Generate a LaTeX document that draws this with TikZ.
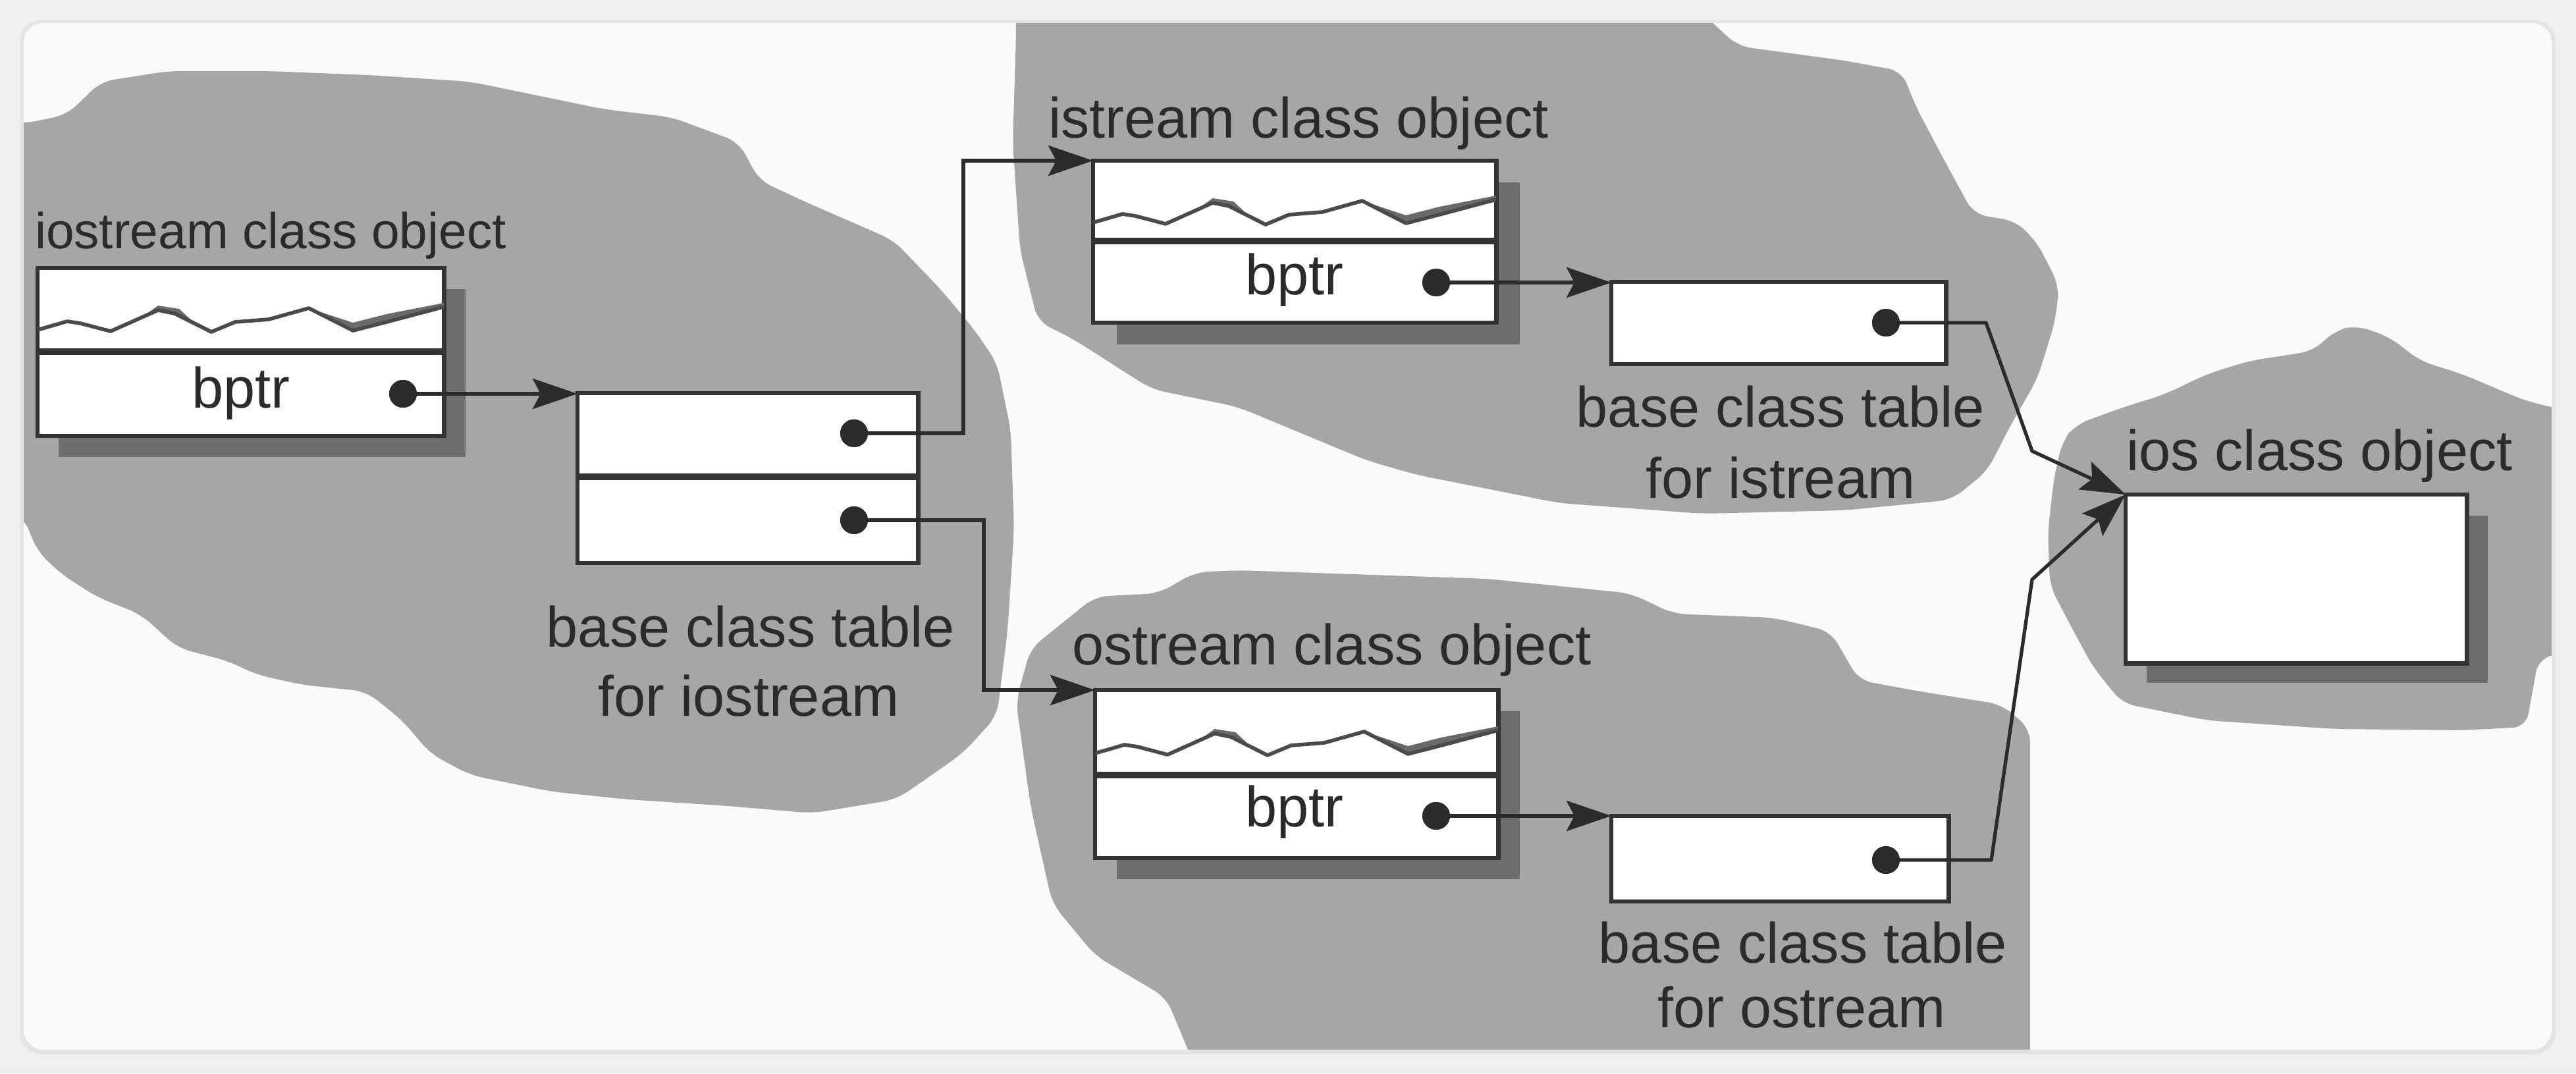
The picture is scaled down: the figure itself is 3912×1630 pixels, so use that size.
\documentclass[tikz,border=0pt]{standalone}
\usepackage{fontspec}
\setmainfont{Liberation Sans}
\usetikzlibrary{arrows.meta,calc}
\definecolor{ink}{HTML}{2B2B2B}
\definecolor{boxc}{HTML}{333333}
\definecolor{blobc}{HTML}{A6A6A6}
\definecolor{shadc}{HTML}{6E6E6E}
\definecolor{squigc}{HTML}{6A6A6A}
\definecolor{outerbg}{HTML}{EFEFEF}
\definecolor{cardbg}{HTML}{FAFAFA}
\definecolor{cardedge}{HTML}{E4E4E4}
\newcommand{\mysquig}[3]{%
  \begin{scope}[shift={(#1,#2)}, xscale=#3]
    \fill[squigc] (150,81) -- (183,64) -- (208,69) -- (240,85) -- (215,62) -- (183,57) -- cycle;
    \fill[squigc] (412,61) -- (479,95) -- (530,82) -- (617,59) -- (617,53) -- (530,70) -- (479,83) -- cycle;
    \draw[squigc!70!black, line width=1.6pt, line join=round]
      (0,94) -- (45,81) -- (65,84) -- (111,96) -- (183,64) -- (208,69) -- (264,97)
      -- (300,82) -- (351,78) -- (412,61) -- (479,95) -- (530,82) -- (617,59);
  \end{scope}}
\begin{document}
\begin{tikzpicture}[x=0.01cm, y=-0.01cm,
  cell/.style={draw=boxc, line width=1.9pt, fill=white, inner sep=0pt, outer sep=0pt, anchor=north west},
  divider/.style={draw=boxc, line width=2.8pt},
  shade/.style={fill=shadc},
  blob/.style={fill=blobc},
  dotn/.style={circle, fill=ink, draw=none, inner sep=0pt, minimum size=0.42cm},
  conn/.style={draw=ink, line width=1.5pt, -{Stealth[length=0.68cm, width=0.46cm, inset=0.12cm]}},
  lab/.style={font=\fontsize{24.6}{29}\selectfont, text=ink, inner sep=0pt, outer sep=0pt},
  smalllab/.style={font=\fontsize{21.8}{25}\selectfont, text=ink, inner sep=0pt, outer sep=0pt}]

\useasboundingbox (0,0) rectangle (3912,1630);
% background and card
\fill[outerbg] (0,0) rectangle (3912,1630);
\fill[cardedge, rounded corners=0.34cm] (30,30) rectangle (3881,1601);
\fill[cardbg, rounded corners=0.3cm] (36,35) rectangle (3875,1594);

% blobs
\begin{scope}
\clip[rounded corners=0.3cm] (36,35) rectangle (3875,1594);
\fill[blob, rounded corners=0.2cm] (20,187) -- (41,187) -- (102,174) -- (153,124) -- (255,108) -- (408,108) -- (560,114) -- (714,124) -- (918,166) -- (1020,178) -- (1122,216) -- (1153,274) -- (1224,307) -- (1357,365) -- (1429,440) -- (1479,500) -- (1514,551) -- (1535,653) -- (1540,806) -- (1530,959) -- (1514,1087) -- (1463,1143) -- (1412,1179) -- (1361,1214) -- (1234,1235) -- (1106,1224) -- (953,1214) -- (837,1202) -- (714,1177) -- (653,1144) -- (612,1095) -- (556,1050) -- (459,1040) -- (388,1024) -- (347,1004) -- (270,984) -- (214,933) -- (148,907) -- (92,871) -- (56,836) -- (36,785) -- (20,780) -- cycle;
\fill[blob, rounded corners=0.2cm] (1543,20) -- (1543,54) -- (1538,217) -- (1549,379) -- (1576,488) -- (1630,515) -- (1749,591) -- (1880,618) -- (2075,699) -- (2151,721) -- (2368,764) -- (2585,780) -- (2801,775) -- (2964,759) -- (3018,715) -- (3051,650) -- (3094,575) -- (3121,488) -- (3127,434) -- (3094,369) -- (3062,336) -- (2997,325) -- (2953,244) -- (2910,163) -- (2888,108) -- (2801,92) -- (2639,70) -- (2585,20) -- cycle;
\fill[blob, rounded corners=0.2cm] (1815,1620) -- (1771,1515) -- (1663,1451) -- (1598,1372) -- (1565,1224) -- (1543,1065) -- (1565,985) -- (1663,906) -- (1760,901) -- (1815,869) -- (1880,866) -- (2259,879) -- (2476,901) -- (2541,932) -- (2693,938) -- (2780,959) -- (2823,1033) -- (2910,1049) -- (3040,1070) -- (3083,1107) -- (3083,1620) -- cycle;
\fill[blob, rounded corners=0.2cm] (3546,502) -- (3578,494) -- (3629,512) -- (3675,548) -- (3739,568) -- (3836,609) -- (3900,624) -- (3900,990) -- (3855,1000) -- (3836,1104) -- (3739,1109) -- (3546,1107) -- (3352,1094) -- (3223,1068) -- (3178,1012) -- (3145,951) -- (3113,890) -- (3110,808) -- (3119,727) -- (3132,670) -- (3152,645) -- (3223,619) -- (3287,599) -- (3352,568) -- (3416,548) -- (3513,533) -- cycle;
\end{scope}

% shadows
\fill[shade] (89,439) rectangle (707,694);
\fill[shade] (1696,277) rectangle (2308,523);
\fill[shade] (1696,1080) rectangle (2308,1335);
\fill[shade] (3260,783) rectangle (3778,1037);

% iostream class object
\node[cell, minimum width=6.17cm, minimum height=1.27cm] (iob1) at (57,407) {};
\node[cell, minimum width=6.17cm, minimum height=1.28cm] (iob2) at (57,534) {};
\draw[divider] (iob2.north west) -- (iob2.north east);
\mysquig{57}{407}{1}

% base class table for iostream
\node[cell, minimum width=5.17cm, minimum height=1.27cm] (iot1) at (877,597) {};
\node[cell, minimum width=5.17cm, minimum height=1.31cm] (iot2) at (877,724) {};
\draw[divider] (iot2.north west) -- (iot2.north east);

% istream class object
\node[cell, minimum width=6.12cm, minimum height=1.22cm] (isb1) at (1660,244) {};
\node[cell, minimum width=6.12cm, minimum height=1.24cm] (isb2) at (1660,366) {};
\draw[divider] (isb2.north west) -- (isb2.north east);
\mysquig{1660}{244}{0.992}

% base class table for istream
\node[cell, minimum width=5.08cm, minimum height=1.25cm] (ist) at (2447,428) {};

% ostream class object
\node[cell, minimum width=6.12cm, minimum height=1.29cm] (osb1) at (1663,1048) {};
\node[cell, minimum width=6.12cm, minimum height=1.26cm] (osb2) at (1663,1177) {};
\draw[divider] (osb2.north west) -- (osb2.north east);
\mysquig{1663}{1050}{0.992}

% base class table for ostream
\node[cell, minimum width=5.12cm, minimum height=1.30cm] (ost) at (2447,1239) {};

% ios class object
\node[cell, minimum width=5.18cm, minimum height=2.56cm] (iosb) at (3228,751) {};

% dots
\node[dotn] (iod) at (612,598) {};
\node[dotn] (iotd1) at (1297,658) {};
\node[dotn] (iotd2) at (1297,790) {};
\node[dotn] (isd) at (2181,429) {};
\node[dotn] (istd) at (2864,490) {};
\node[dotn] (osd) at (2181,1239) {};
\node[dotn] (ostd) at (2864,1306) {};

% bend points
\coordinate (bA) at (1463,658);
\coordinate (bB) at (1494,790);
\coordinate (bC) at (3016,490);
\coordinate (bD) at (3086,685);
\coordinate (bE) at (3024,1306);
\coordinate (bF) at (3086,880);

% connectors
\draw[conn] (iod.center) -- (iod.center -| iot1.north west);
\draw[conn] (iotd1.center) -- (bA) |- (isb1.north west);
\draw[conn] (iotd2.center) -- (bB) |- (osb1.north west);
\draw[conn] (isd.center) -- (isd.center -| ist.north west);
\draw[conn] (osd.center) -- (osd.center -| ost.north west);
\draw[conn, line join=round] (istd.center) -- (bC) -- (bD) -- (iosb.north west);
\draw[conn, line join=round] (ostd.center) -- (bE) -- (bF) -- (iosb.north west);
\node[dotn] at (iod) {};
\node[dotn] at (iotd1) {};
\node[dotn] at (iotd2) {};
\node[dotn] at (isd) {};
\node[dotn] at (istd) {};
\node[dotn] at (osd) {};
\node[dotn] at (ostd) {};

% labels
\node[smalllab, anchor=base west] (iotitle) at (53,377) {iostream class object};
\node[lab, anchor=base] (iobptr) at (366,619) {bptr};
\node[lab, anchor=base] (iotl1) at (1140,982) {base class table};
\node[lab, anchor=base] (iotl2) at (1137,1087) {for iostream};

\node[lab, anchor=base west] (istitle) at (1592,209) {istream class object};
\node[lab, anchor=base] (isbptr) at (1966,447) {bptr};
\node[lab, anchor=base] (istl1) at (2704,648) {base class table};
\node[lab, anchor=base] (istl2) at (2704,756) {for istream};

\node[lab, anchor=base west] (ostitle) at (1628,1009) {ostream class object};
\node[lab, anchor=base] (osbptr) at (1966,1255) {bptr};
\node[lab, anchor=base] (ostl1) at (2738,1462) {base class table};
\node[lab, anchor=base] (ostl2) at (2736,1560) {for ostream};

\node[lab, anchor=base west] (iostitle) at (3229,714) {ios class object};
\end{tikzpicture}
\end{document}
